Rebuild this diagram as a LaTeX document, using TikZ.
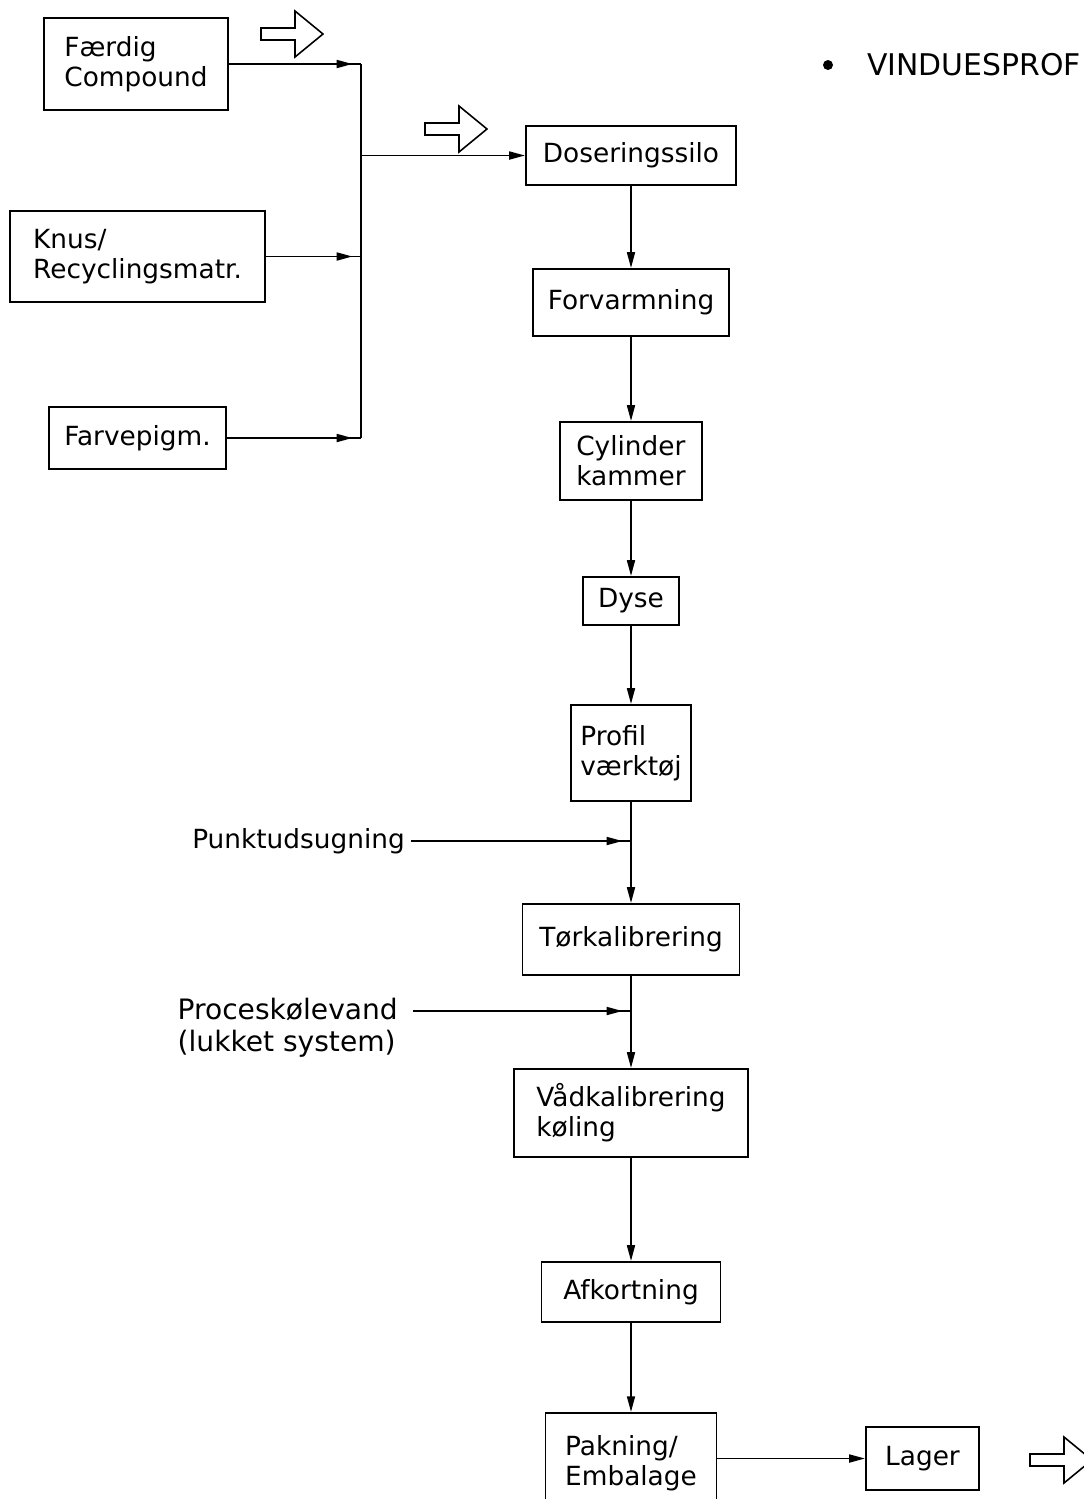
\documentclass[tikz,border=0pt]{standalone}
\usepackage{fontspec}
\setmainfont{DejaVu Sans}
\usetikzlibrary{arrows.meta,decorations.markings}
\newcommand{\flowFont}{\fontsize{15}{17}\selectfont}
\newcommand{\titleFont}{\fontsize{17}{20}\selectfont}
% outlined block arrow, #1 = left end of the shaft
\newcommand{\hollowArrow}[1]{%
  \draw[line width=0.9pt] (#1) ++(0,-6) -- ++(34,0) -- ++(0,-17) -- ++(28,23)
    -- ++(-28,23) -- ++(0,-17) -- ++(-34,0) -- cycle;}
\tikzset{
  >={Triangle[length=9pt,width=4.5pt]},
  box/.style={draw, line width=1.1pt, inner sep=3pt, align=left, font=\flowFont},
  caption/.style={inner sep=3pt, align=left, font=\flowFont},
  feed/.style={postaction=decorate,
    decoration={markings, mark=at position -0.17cm with {\arrow{>}}}},
}

\begin{document}
\begin{tikzpicture}[x=0.02cm,y=-0.02cm,line width=1.1pt]
\useasboundingbox (0,0) rectangle (1083,1499);
% Raw materials
\node[box, minimum width=3.68cm, minimum height=1.84cm] (ferdig) at (136,64)    {Færdig\\Compound};
\node[box, minimum width=5.10cm, minimum height=1.82cm] (knus)   at (137.5,256.5) {Knus/\\Recyclingsmatr.};
\node[box, minimum width=3.54cm, minimum height=1.24cm] (farve)  at (137.5,438) {Farvepigm.};
% Process chain
\node[box, minimum width=4.20cm, minimum height=1.18cm] (dosering) at (631,155.5) {Doseringssilo};
\node[box, minimum width=3.92cm, minimum height=1.34cm] (forvarm)  at (631,302.5) {Forvarmning};
\node[box, minimum width=2.84cm, minimum height=1.56cm] (cylinder) at (631,461)   {Cylinder\\kammer};
\node[box, minimum width=1.92cm, minimum height=0.96cm] (dyse)     at (631,601)   {Dyse};
\node[box, minimum width=2.40cm, minimum height=1.92cm] (profil)   at (631,753)   {Profil\\værktøj};
\node[box, minimum width=4.34cm, minimum height=1.42cm] (tork)     at (631,939.5) {Tørkalibrering};
\node[box, minimum width=4.68cm, minimum height=1.76cm] (vaad)     at (631,1113)  {Vådkalibrering\\køling};
\node[box, minimum width=3.58cm, minimum height=1.20cm] (afkort)   at (631,1292)  {Afkortning};
\node[box, minimum width=3.42cm, minimum height=2.00cm] (pakning)  at (631,1463)  {Pakning/\\Embalage};
\node[box, minimum width=2.26cm, minimum height=1.26cm] (lager)    at (922.5,1458.5) {Lager};
% Side inputs
\node[caption, anchor=east] (punkt) at (411,841)  {Punktudsugning};
\node[caption, anchor=east, font=\fontsize{16}{18}\selectfont] (kol) at (404,1028) {Proceskølevand\\(lukket system)};
\coordinate (kolin) at (413,1011);
% Title
\node[circle, fill, inner sep=0pt, minimum size=0.2cm] (bullet) at (828,65) {};
\node[anchor=west, inner sep=3pt, font=\titleFont] (title) at (861,65) {VINDUESPROF};
% Collector
\coordinate (bus) at (361,0);
\draw[feed] (ferdig.east) -- (ferdig.east -| bus);
\draw[feed] (knus.east)   -- (knus.east -| bus);
\draw[feed] (farve.east)  -- (farve.east -| bus);
\draw (ferdig.east -| bus) -- (farve.east -| bus);
\draw[->] (dosering.west -| bus) -- (dosering.west);
% Main flow
\draw[->] (dosering) -- (forvarm);
\draw[->] (forvarm)  -- (cylinder);
\draw[->] (cylinder) -- (dyse);
\draw[->] (dyse)     -- (profil);
\draw[->] (profil)   -- (tork);
\draw[->] (tork)     -- (vaad);
\draw[->] (vaad)     -- (afkort);
\draw[->] (afkort)   -- (pakning);
\draw[->] (pakning.east |- lager.west) -- (lager.west);
% Side inputs
\draw[feed] (punkt.east) -- (punkt.east -| profil.south);
\draw[feed] (kolin) -- (kolin -| tork.south);
% Block arrows
\hollowArrow{261,34}
\hollowArrow{425,129}
\hollowArrow{1030,1460}
\end{tikzpicture}
\end{document}
